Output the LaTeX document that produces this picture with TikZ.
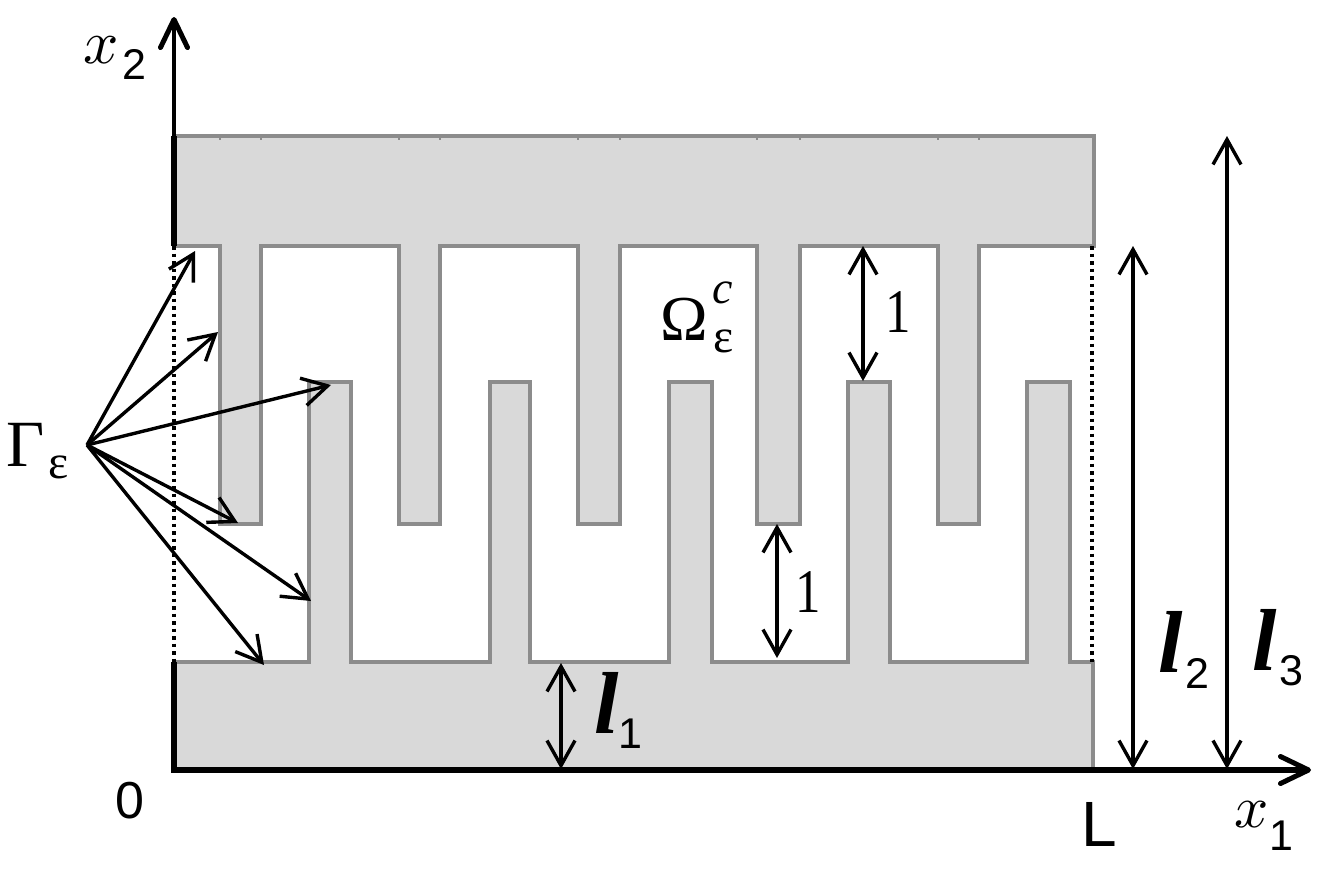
\documentclass[tikz,border=0pt]{standalone}
\usepackage{fontspec}
\setmainfont{Liberation Serif}
\newfontfamily\armfont{Liberation Sans}
\usetikzlibrary{arrows.meta}
\newcommand{\fsz}[1]{\fontsize{#1}{#1}\selectfont}
\tikzset{
  x=1pt,y=-1pt,
  lab/.style={anchor=base west,inner sep=0pt,outer sep=0pt},
  narrow/.style={lab,xscale=.82},
  region/.style={fill=black!15,draw=black!45,line width=3.4pt,line join=miter},
  axisline/.style={line width=4.6pt,draw=black,-{Straight Barb[length=28pt,width=27pt,line width=5pt,round]}},
  edgeheavy/.style={line width=6pt,draw=black,line cap=butt},
  dimarrow/.style={line width=3.4pt,draw=black,{Straight Barb[length=25pt,width=28pt,line width=3.4pt]}-{Straight Barb[length=25pt,width=28pt,line width=3.4pt]}},
  ptarrow/.style={line width=3.4pt,draw=black,-{Straight Barb[length=25pt,width=28pt,line width=3.4pt]}},
  dots/.style={line width=3.4pt,draw=black,dash pattern=on 3.6pt off 3.9pt},
  tick/.style={line width=2pt,draw=black!45},
}
\begin{document}
\begin{tikzpicture}
\useasboundingbox (0,0) rectangle (1326,876);
% region
\path[region] (174,136) -- (1094,136) -- (1094,246)
  -- (979,246) -- (979,524) -- (938,524) -- (938,246)
  -- (800,246) -- (800,524) -- (757,524) -- (757,246)
  -- (620,246) -- (620,524) -- (578,524) -- (578,246)
  -- (440,246) -- (440,524) -- (399,524) -- (399,246)
  -- (261,246) -- (261,524) -- (220,524) -- (220,246)
  -- (174,246) -- cycle;
\path[region] (174,662) -- (309,662) -- (309,382) -- (351,382) -- (351,662)
  -- (490,662) -- (490,382) -- (530,382) -- (530,662)
  -- (669,662) -- (669,382) -- (712,382) -- (712,662)
  -- (848,662) -- (848,382) -- (890,382) -- (890,662)
  -- (1027,662) -- (1027,382) -- (1070,382) -- (1070,662)
  -- (1093,662) -- (1093,770) -- (174,770) -- cycle;
% small marks under the top edge
\foreach \tx in {220,261,399,440,578,620,757,800,938,979}
  \draw[tick] (\tx,137) -- (\tx,140);
% coordinates
\coordinate (O) at (174,770);
\coordinate (Xend) at (1311,770);
\coordinate (Xstart) at (171,770);
\coordinate (Yend) at (174,17);
\coordinate (Ltop) at (174,136);
\coordinate (Lmidtop) at (174,246);
\coordinate (Lmidbot) at (174,662);
\coordinate (Rtop) at (1092,246);
\coordinate (Rbot) at (1092,662);
\coordinate (G) at (87,445);
\coordinate (g1) at (195,251);
\coordinate (g2) at (218,332);
\coordinate (g3) at (331,385);
\coordinate (g4) at (238,523);
\coordinate (g5) at (311,601);
\coordinate (g6) at (264,665);
\coordinate (a1) at (863,246);
\coordinate (a2) at (863,381);
\coordinate (b1) at (777,524);
\coordinate (b2) at (777,658);
\coordinate (c1) at (561,663);
\coordinate (c2) at (561,769);
\coordinate (d1) at (1133,246);
\coordinate (d2) at (1133,769);
\coordinate (e1) at (1227,136);
\coordinate (e2) at (1227,769);
% boundary
\draw[dots] (Lmidtop) -- (Lmidbot);
\draw[dots] (Rtop) -- (Rbot);
\draw[edgeheavy] (Lmidbot) -- (O);
\draw[edgeheavy] (Ltop) -- (Lmidtop);
\draw[axisline] (Ltop) -- (Yend);
\draw[axisline,line width=6pt] (Xstart) -- (Xend);
% arrows
\foreach \t in {g1,g2,g3,g4,g5,g6} \draw[ptarrow] (G) -- (\t);
\draw[dimarrow] (a1) -- (a2);
\draw[dimarrow] (b1) -- (b2);
\draw[dimarrow] (c1) -- (c2);
\draw[dimarrow] (d1) -- (d2);
\draw[dimarrow] (e1) -- (e2);
% labels
\node[lab,scale=6.2] (x2a) at (83,63) {$x$};
\node[lab] (x2b) at (122,79) {\armfont\fsz{43}2};
\node[lab,scale=6] (x1a) at (1234,827) {$x$};
\node[lab] (x1b) at (1269,850) {\armfont\fsz{43}1};
\node[lab] (zero) at (115,818) {\armfont\fsz{52}0};
\node[lab] (Lname) at (1081,846) {\armfont\fsz{64}L};
\node[lab] (Ga) at (6,466) {\fsz{66}Γ};
\node[lab] (Gb) at (48,478) {\fsz{48}ε};
\node[lab] (Oa) at (660,340) {\fsz{64}Ω};
\node[lab] (Oc) at (712,303) {\fsz{46}\itshape c};
\node[lab] (Oe) at (713,352) {\fsz{48}ε};
\node[narrow] (oneA) at (885,332) {\fsz{62}1};
\node[narrow] (oneB) at (795,612) {\fsz{62}1};
\node[lab] (l1a) at (594,733) {\fsz{88}\bfseries\itshape l};
\node[lab] (l1b) at (618,748) {\armfont\fsz{43}1};
\node[lab] (l2a) at (1158,672) {\fsz{88}\bfseries\itshape l};
\node[lab] (l2b) at (1185,688) {\armfont\fsz{43}2};
\node[lab] (l3a) at (1252,670) {\fsz{88}\bfseries\itshape l};
\node[lab] (l3b) at (1279,685) {\armfont\fsz{43}3};
\end{tikzpicture}
\end{document}
